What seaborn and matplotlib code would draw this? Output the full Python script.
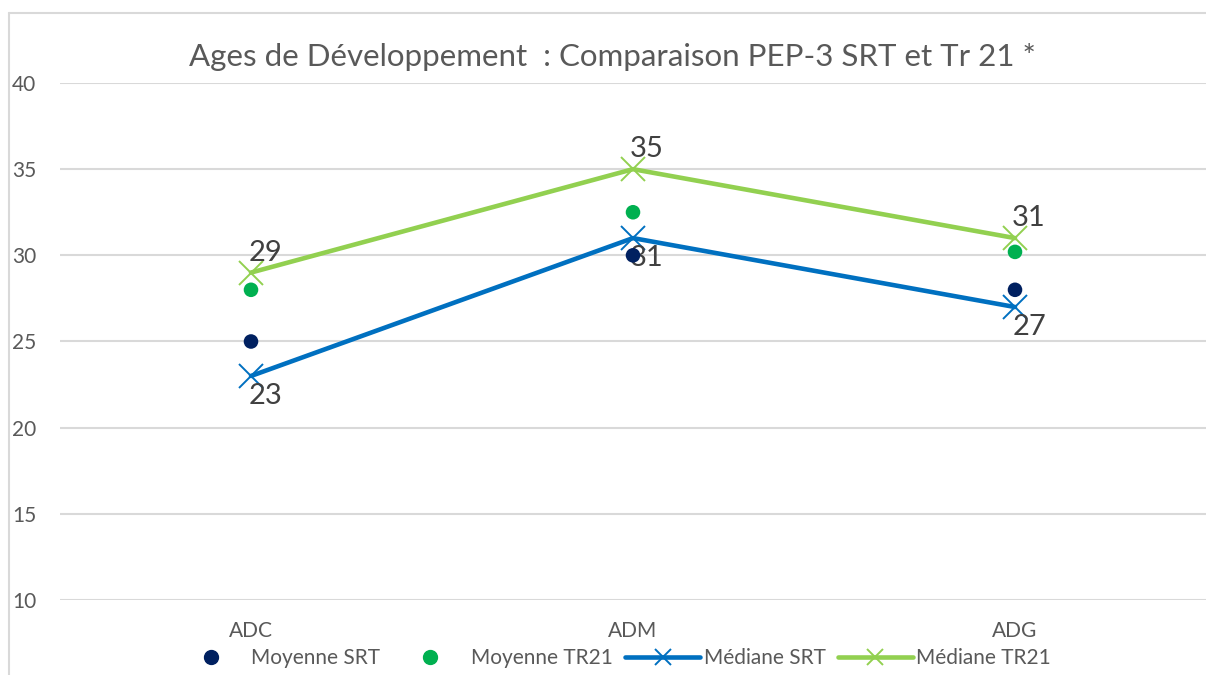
import pandas as pd
import numpy as np
import matplotlib
matplotlib.use('Agg')
import matplotlib.pyplot as plt
from matplotlib.lines import Line2D
import seaborn as sns

### data
categories = ['ADC', 'ADM', 'ADG']
moyenne_srt = [25, 30, 28]
moyenne_tr21 = [28, 32.5, 30.2]
mediane_srt = [23, 31, 27]
mediane_tr21 = [29, 35, 31]
y_ticks = [10, 15, 20, 25, 30, 35, 40]

# colours picked to match the Excel look
c_moy_srt = '#002060'
c_moy_tr21 = '#00B050'
c_med_srt = '#0070C0'
c_med_tr21 = '#92D050'
grey_txt = '#595959'
grid_col = '#D9D9D9'

sns.set_theme(style='white')
plt.rcParams['font.family'] = ['Lato', 'DejaVu Sans']

df = pd.DataFrame({'cat': categories,
                   'Moyenne SRT': moyenne_srt,
                   'Moyenne TR21': moyenne_tr21,
                   'Médiane SRT': mediane_srt,
                   'Médiane TR21': mediane_tr21})

fig = plt.figure(figsize=(12.06, 6.75), dpi=100)
ax = fig.add_axes([60 / 1206, 1 - 600 / 675, 1146 / 1206, 517 / 675])

# median lines with x markers
sns.lineplot(data=df, x='cat', y='Médiane SRT', ax=ax, color=c_med_srt,
             lw=3.3, marker='x', markersize=17, markeredgewidth=1.4,
             markeredgecolor=c_med_srt, sort=False)
sns.lineplot(data=df, x='cat', y='Médiane TR21', ax=ax, color=c_med_tr21,
             lw=3.3, marker='x', markersize=17, markeredgewidth=1.4,
             markeredgecolor=c_med_tr21, sort=False)

# mean points
sns.scatterplot(data=df, x='cat', y='Moyenne SRT', ax=ax, color=c_moy_srt,
                s=110, edgecolor='none', zorder=4)
sns.scatterplot(data=df, x='cat', y='Moyenne TR21', ax=ax, color=c_moy_tr21,
                s=110, edgecolor='none', zorder=4)

# data labels for the medians
for i, v in enumerate(mediane_tr21):
    ax.annotate(str(v), (i, v), xytext=(-2, 5), textcoords='offset points',
                ha='left', va='bottom', fontsize=21, color='#404040')
for i, v in enumerate(mediane_srt):
    ax.annotate(str(v), (i, v), xytext=(-2, -5), textcoords='offset points',
                ha='left', va='top', fontsize=21, color='#404040')

ax.set_xlim(-0.5, 2.5)
ax.set_ylim(10, 40)
ax.set_yticks(y_ticks)
ax.yaxis.grid(True, color=grid_col, lw=1.5)
ax.set_axisbelow(True)
for sp in ax.spines.values():
    sp.set_visible(False)
ax.set_xlabel('')
ax.set_ylabel('')
ax.tick_params(axis='y', length=0, pad=17, labelsize=15, labelcolor=grey_txt)
ax.tick_params(axis='x', length=0, pad=15, labelsize=15, labelcolor=grey_txt)

fig.text(612 / 1206, 1 - 57 / 675, 'Ages de Développement  : Comparaison PEP-3 SRT et Tr 21 *',
         ha='center', va='center', fontsize=22.5, color=grey_txt)

# legend along the bottom
handles = [
    Line2D([], [], ls='none', marker='o', ms=10, color=c_moy_srt),
    Line2D([], [], ls='none', marker='o', ms=10, color=c_moy_tr21),
    Line2D([], [], color=c_med_srt, lw=3.3, marker='x', ms=12, mew=1.4),
    Line2D([], [], color=c_med_tr21, lw=3.3, marker='x', ms=12, mew=1.4),
]
labels = ['Moyenne SRT', 'Moyenne TR21', 'Médiane SRT', 'Médiane TR21']
fig.legend(handles, labels, loc='center', bbox_to_anchor=(612 / 1206, 1 - 658 / 675),
           ncol=4, frameon=False, fontsize=15, labelcolor=grey_txt,
           handlelength=3.6, handletextpad=0.15, columnspacing=0.6)

# chart frame, cropped on right and bottom like the reference
fig.add_artist(Line2D([9 / 1206, 1], [1 - 13 / 675, 1 - 13 / 675], color=grid_col, lw=1.5,
                      transform=fig.transFigure))
fig.add_artist(Line2D([9 / 1206, 9 / 1206], [0, 1 - 13 / 675], color=grid_col, lw=1.5,
                      transform=fig.transFigure))

fig.savefig('out.png', dpi=100)
